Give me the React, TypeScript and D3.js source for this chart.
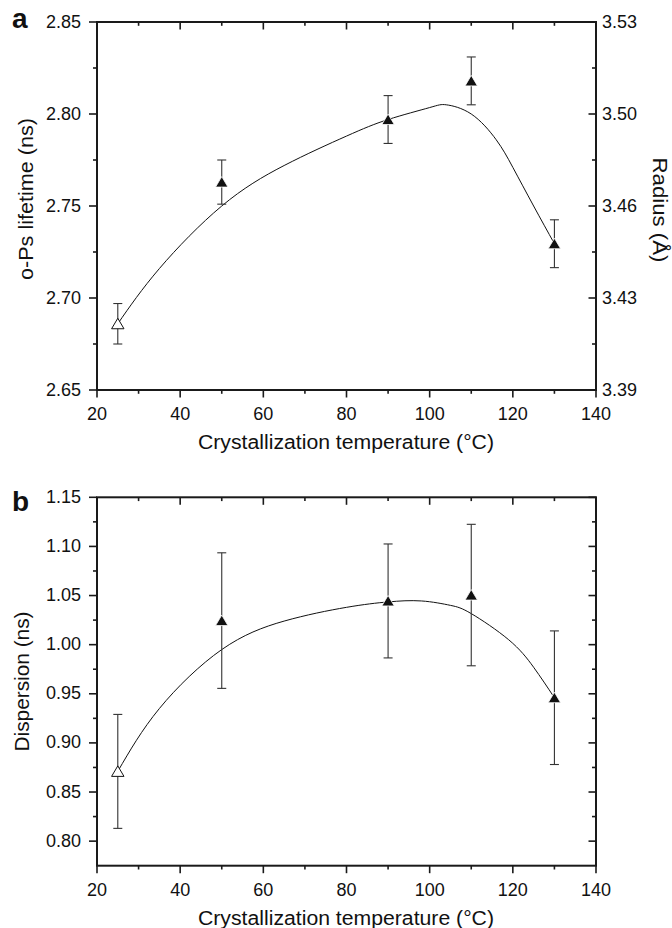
import React from "react";
import * as d3 from "d3";

// ---------- data ----------
const temps = [25, 50, 90, 110, 130];
const lifetime = [2.686, 2.763, 2.797, 2.818, 2.7295];
const lifetimeErr = [0.011, 0.012, 0.013, 0.013, 0.013];
const dispersion = [0.871, 1.0245, 1.0445, 1.0505, 0.946];
const dispersionErr = [0.058, 0.069, 0.058, 0.072, 0.068];
const openMarker = [true, false, false, false, false];

const lifeCurveX = [25, 35, 50, 65, 80, 90, 100, 104, 110, 116, 120, 125, 130];
const lifeCurveY = [2.686, 2.716, 2.750, 2.772, 2.788, 2.797, 2.8035, 2.805, 2.800, 2.786, 2.771, 2.750, 2.7295];
const dispCurveX = [25, 35, 50, 65, 80, 90, 98, 105, 110, 119, 125, 130];
const dispCurveY = [0.871, 0.935, 0.995, 1.024, 1.038, 1.0435, 1.0445, 1.040, 1.0316, 1.005, 0.977, 0.946];

const xMajor = [20, 40, 60, 80, 100, 120, 140];
const xMinor = [30, 50, 70, 90, 110, 130];
const lifeMajor = [2.65, 2.70, 2.75, 2.80, 2.85];
const lifeMinor = [2.675, 2.725, 2.775, 2.825];
const radiusLabels = ["3.39", "3.43", "3.46", "3.50", "3.53"];
const dispMajor = [0.80, 0.85, 0.90, 0.95, 1.00, 1.05, 1.10, 1.15];
const dispMinor = [0.825, 0.875, 0.925, 0.975, 1.025, 1.075, 1.125];

const FONT = "'Liberation Sans', Arial, Helvetica, sans-serif";
const AX = "#1a1a1a";

type PanelProps = {
  y0: number; y1: number; yDomain: [number, number];
  major: number[]; minor: number[]; fmt: (v: number) => string;
  rightLabels?: string[];
  vals: number[]; errs: number[]; cx: number[]; cy: number[];
  letter: string; letterY: number;
  yTitle: string; yTitleX: number; yTitleY: number; yTitleLen: number;
  rTitle?: string;
};

const xScale = d3.scaleLinear().domain([20, 140]).range([97, 596]);

function Panel(p: PanelProps) {
  const y = d3.scaleLinear().domain(p.yDomain).range([p.y1, p.y0]);
  const x = xScale;
  const [xl, xr] = x.range();
  const line = d3.line<number>()
    .x((_, i) => x(p.cx[i]))
    .y((d) => y(d))
    .curve(d3.curveNatural);
  const tri = (px: number, py: number) =>
    `M${px},${py - 5.5}L${px + 6.2},${py + 5}L${px - 6.2},${py + 5}Z`;
  return (
    <g>
      {/* curve */}
      <path d={line(p.cy) || ""} fill="none" stroke="#111" strokeWidth={1} />
      {/* error bars */}
      {temps.map((t, i) => {
        const px = x(t);
        const yt = y(p.vals[i] + p.errs[i]);
        const yb = y(p.vals[i] - p.errs[i]);
        return (
          <g key={"e" + i} stroke="#333" strokeWidth={1.1}>
            <line x1={px} x2={px} y1={yt} y2={yb} />
            <line x1={px - 4.5} x2={px + 4.5} y1={yt} y2={yt} />
            <line x1={px - 4.5} x2={px + 4.5} y1={yb} y2={yb} />
          </g>
        );
      })}
      {/* markers */}
      {temps.map((t, i) => (
        <path key={"m" + i} d={tri(x(t), y(p.vals[i]))}
          fill={openMarker[i] ? "#fff" : "#111"}
          stroke={openMarker[i] ? "#111" : "#fff"}
          strokeWidth={openMarker[i] ? 1 : 0.8} />
      ))}
      {/* frame */}
      <rect x={xl} y={p.y0} width={xr - xl} height={p.y1 - p.y0} fill="none" stroke={AX} strokeWidth={2} />
      {/* x ticks bottom (outward) & top (inward) */}
      {xMajor.map((t) => (
        <g key={"xM" + t} stroke={AX} strokeWidth={1.6}>
          <line x1={x(t)} x2={x(t)} y1={p.y1} y2={p.y1 + 7.5} />
          <line x1={x(t)} x2={x(t)} y1={p.y0} y2={p.y0 + 7.5} />
        </g>
      ))}
      {xMinor.map((t) => (
        <g key={"xm" + t} stroke={AX} strokeWidth={1.6}>
          <line x1={x(t)} x2={x(t)} y1={p.y1} y2={p.y1 + 3.8} />
          <line x1={x(t)} x2={x(t)} y1={p.y0} y2={p.y0 + 3.8} />
        </g>
      ))}
      {/* y ticks left (outward) & right (inward) */}
      {p.major.map((t) => (
        <g key={"yM" + t} stroke={AX} strokeWidth={1.6}>
          <line x1={xl - 8} x2={xl} y1={y(t)} y2={y(t)} />
          <line x1={xr - 7.5} x2={xr} y1={y(t)} y2={y(t)} />
        </g>
      ))}
      {p.minor.map((t) => (
        <g key={"ym" + t} stroke={AX} strokeWidth={1.6}>
          <line x1={xl - 4} x2={xl} y1={y(t)} y2={y(t)} />
          <line x1={xr - 4} x2={xr} y1={y(t)} y2={y(t)} />
        </g>
      ))}
      {/* tick labels */}
      <g fontFamily={FONT} fontSize={18} fill="#111">
        {xMajor.map((t) => (
          <text key={"xl" + t} x={x(t)} y={p.y1 + 30} textAnchor="middle">{t}</text>
        ))}
        {p.major.map((t) => (
          <text key={"yl" + t} x={81} y={y(t) + 5.5} textAnchor="end">{p.fmt(t)}</text>
        ))}
        {p.rightLabels && p.major.map((t, i) => (
          <text key={"rl" + t} x={602} y={y(t) + 5.5} textAnchor="start">{p.rightLabels![i]}</text>
        ))}
      </g>
      {/* titles */}
      <g fontFamily={FONT} fontSize={20} fill="#111">
        <text x={(xl + xr) / 2 - 0.5} y={p.y1 + 59} textAnchor="middle" textLength={296} lengthAdjust="spacingAndGlyphs">
          Crystallization temperature (°C)
        </text>
        <text transform={`translate(${p.yTitleX},${p.yTitleY}) rotate(-90)`} textAnchor="middle"
          textLength={p.yTitleLen} lengthAdjust="spacingAndGlyphs">{p.yTitle}</text>
        {p.rTitle && (
          <text transform={`translate(653,210) rotate(90)`} textAnchor="middle"
            textLength={105} lengthAdjust="spacingAndGlyphs">{p.rTitle}</text>
        )}
      </g>
      <text x={12} y={p.letterY} fontFamily={FONT} fontSize={28} fontWeight="bold" fill="#111">{p.letter}</text>
    </g>
  );
}

export default function App() {
  return (
    <svg width={672} height={928} viewBox="0 0 672 928"
      style={{ position: "absolute", left: 0, top: 0, background: "#fff" }}>
      <rect x={0} y={0} width={672} height={928} fill="#fff" />
      <Panel y0={22} y1={390} yDomain={[2.65, 2.85]} major={lifeMajor} minor={lifeMinor}
        fmt={(v) => v.toFixed(2)} rightLabels={radiusLabels}
        vals={lifetime} errs={lifetimeErr} cx={lifeCurveX} cy={lifeCurveY}
        letter="a" letterY={28} yTitle="o-Ps lifetime (ns)" yTitleX={33} yTitleY={199} yTitleLen={162}
        rTitle="Radius (Å)" />
      <Panel y0={497.3} y1={865.7} yDomain={[0.775, 1.15]} major={dispMajor} minor={dispMinor}
        fmt={(v) => v.toFixed(2)}
        vals={dispersion} errs={dispersionErr} cx={dispCurveX} cy={dispCurveY}
        letter="b" letterY={511} yTitle="Dispersion (ns)" yTitleX={29} yTitleY={681.5} yTitleLen={140} />
    </svg>
  );
}
